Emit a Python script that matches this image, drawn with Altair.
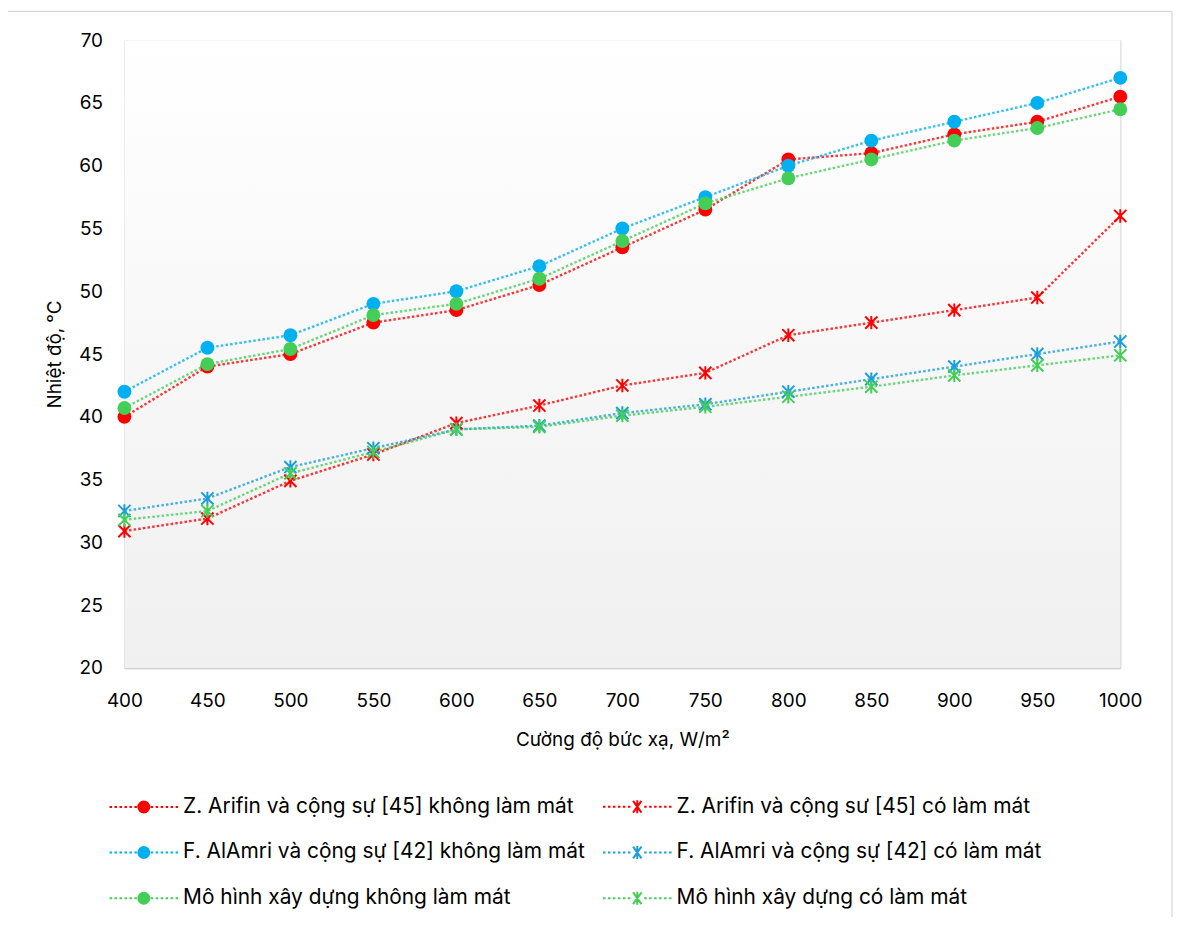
import altair as alt
import pandas as pd

# ---- data ----
irradiance = [400, 450, 500, 550, 600, 650, 700, 750, 800, 850, 900, 950, 1000]

series_names = [
    "Z. Arifin và cộng sự [45] không làm mát",
    "Z. Arifin và cộng sư [45] có làm mát",
    "F. AlAmri và cộng sự [42] không làm mát",
    "F. AlAmri và cộng sự [42] có làm mát",
    "Mô hình xây dựng không làm mát",
    "Mô hình xây dựng có làm mát",
]

arifin_no_cool = [40, 44, 45, 47.5, 48.5, 50.5, 53.5, 56.5, 60.5, 61, 62.5, 63.5, 65.5]
arifin_cool = [30.9, 31.9, 34.9, 37, 39.5, 40.9, 42.5, 43.5, 46.5, 47.5, 48.5, 49.5, 56]
alamri_no_cool = [42, 45.5, 46.5, 49, 50, 52, 55, 57.5, 60, 62, 63.5, 65, 67]
alamri_cool = [32.5, 33.5, 36, 37.5, 39, 39.3, 40.3, 41, 42, 43, 44, 45, 46]
model_no_cool = [40.7, 44.2, 45.4, 48.1, 49, 51, 54, 57, 59, 60.5, 62, 63, 64.5]
model_cool = [31.8, 32.5, 35.5, 37.2, 39, 39.2, 40.1, 40.8, 41.6, 42.4, 43.3, 44.1, 44.9]

series_values = [arifin_no_cool, arifin_cool, alamri_no_cool, alamri_cool,
                 model_no_cool, model_cool]
series_cooled = [False, True, False, True, False, True]

colors = ["#FF0000", "#FF0000", "#00B0F0", "#1A9FDB", "#45CE57", "#45CE57"]

y_ticks = [20, 25, 30, 35, 40, 45, 50, 55, 60, 65, 70]
x_ticks = irradiance

rows = []
for name, vals, cooled in zip(series_names, series_values, series_cooled):
    for xv, yv in zip(irradiance, vals):
        rows.append({"series": name, "x": xv, "y": yv, "cooled": cooled})
df = pd.DataFrame(rows)

# ---- legend symbol paths (dotted line + marker), drawn with strokes only ----
def dotted(k_start, k_end, dot=0.385, period=0.77):
    parts = []
    p = k_start
    while p + dot <= k_end + 1e-9:
        parts.append(f"M{p:.3f},0L{p + dot:.3f},0")
        p += period
    return "".join(parts)

def ring(r):
    return f"M{-r},0A{r},{r} 0 1,0 {r},0A{r},{r} 0 1,0 {-r},0Z"

line_part = dotted(-5.3, -1.0) + dotted(1.07, 5.4)
disc_part = "".join(ring(r) for r in [0.85, 0.62, 0.4, 0.18])
star_part = "M-0.65,-0.9L0.65,0.9M-0.65,0.9L0.65,-0.9M0,-1L0,1"
plot_star = "M-1,-1L1,1M-1,1L1,-1M0,-1.1L0,1.1"

# legend fills column by column: non-cooled series in column 1, cooled in column 2
legend_order = [0, 2, 4, 1, 3, 5]
legend_domain = [series_names[i] for i in legend_order]
legend_colors = [colors[i] for i in legend_order]
legend_shapes = [line_part + (star_part if series_cooled[i] else disc_part) for i in legend_order]

FONT = "Inter"
W, H = 1001, 631

x_enc = alt.X("x:Q", scale=alt.Scale(domain=[400, 1000], nice=False, zero=False),
              axis=alt.Axis(values=x_ticks, title="Cường độ bức xạ, W/m²", grid=True,
                            labelPadding=24, titlePadding=20, format="d", labelFlush=False))
y_enc = alt.Y("y:Q", scale=alt.Scale(domain=[20, 70], nice=False, zero=False),
              axis=alt.Axis(values=y_ticks, title="Nhiệt độ, ᵒC", grid=True,
                            labelPadding=22, titlePadding=14, labelFlush=False))

# plot layers use a reversed-order scale (same colours) so that their
# hidden legends stay separate from the visible one
def plot_scale():
    return alt.Scale(domain=series_names[::-1], range=colors[::-1])

base = alt.Chart(df)
one = pd.DataFrame({"k": [0]})

frame = alt.Chart(one).mark_rect(
    filled=False, stroke="#D9D9D9", strokeWidth=1.2
).encode(x=alt.value(-118), x2=alt.value(1053), y=alt.value(-29), y2=alt.value(900))

bg = alt.Chart(one).mark_rect(
    fill=alt.Gradient(gradient="linear", x1=0, y1=0, x2=0, y2=1,
                      stops=[alt.GradientStop(offset=0, color="#FFFFFF"),
                             alt.GradientStop(offset=1, color="#F0F0F0")])
).encode(x=alt.value(0), x2=alt.value(W), y=alt.value(0), y2=alt.value(H))

lines = base.mark_line(strokeWidth=2.4, strokeDash=[2.5, 2.2], opacity=0.8).encode(
    x=x_enc, y=y_enc,
    stroke=alt.Stroke("series:N", scale=plot_scale(), legend=None),
    detail="series:N",
)

circles = base.transform_filter("!datum.cooled").mark_point(
    filled=True, shape="circle", size=195, opacity=1
).encode(x="x:Q", y="y:Q",
         fill=alt.Fill("series:N", scale=plot_scale(), legend=None))

stars = base.transform_filter("datum.cooled").mark_point(
    filled=False, shape=plot_star, size=150, strokeWidth=2, opacity=1
).encode(x="x:Q", y="y:Q",
         stroke=alt.Stroke("series:N", scale=plot_scale(), legend=None))

leg = alt.Legend(orient="none", legendX=9, legendY=760, columns=2, title=None,
                 symbolSize=169, symbolStrokeWidth=2, labelFont=FONT, labelFontSize=21,
                 labelColor="#000000", labelOffset=29, columnPadding=13, rowPadding=24,
                 labelLimit=700, padding=0, symbolOpacity=1)

legend_layer = base.transform_filter("datum.y < 0").mark_point(
    filled=False, size=169, strokeWidth=2
).encode(
    x="x:Q", y="y:Q",
    color=alt.Color("series:N", scale=alt.Scale(domain=legend_domain, range=legend_colors), legend=leg),
    shape=alt.Shape("series:N", scale=alt.Scale(domain=legend_domain, range=legend_shapes), legend=leg),
)

chart = alt.layer(frame, bg, lines, circles, stars, legend_layer).properties(
    width=W, height=H,
    background="#FFFFFF",
    autosize=alt.AutoSizeParams(type="none"),
    padding={"left": 117, "top": 30, "right": 54, "bottom": 248},
).configure_view(
    stroke=None,
).configure_axis(
    labelFont=FONT, labelFontSize=19, labelColor="#000000",
    titleFont=FONT, titleFontSize=19, titleColor="#000000", titleFontWeight="normal",
    gridColor="#D9D9D9", gridWidth=1.4, domainColor="#D0D0D0", domainWidth=1.4,
    ticks=False,
)

chart.save("out.html", embed_options={"renderer": "svg", "actions": False})
